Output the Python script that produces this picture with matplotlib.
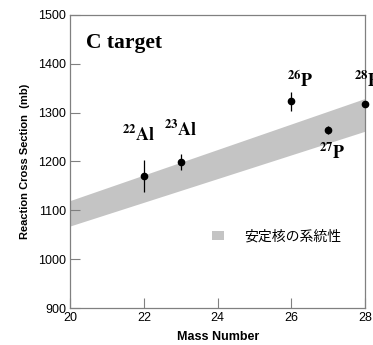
import matplotlib
matplotlib.use("Agg")
import matplotlib.pyplot as plt
from matplotlib.patches import Patch

plt.rcParams["mathtext.fontset"] = "stix"

mass = [22, 23, 26, 27, 28]
sigma = [1170, 1199, 1323, 1265, 1318]
err = [33, 16, 20, 8, 0]
labels = [r"$\mathbf{^{22}Al}$", r"$\mathbf{^{23}Al}$", r"$\mathbf{^{26}P}$",
          r"$\mathbf{^{27}P}$", r"$\mathbf{^{28}P}$"]
label_x = [21.85, 23.0, 26.25, 27.1, 28.05]
label_y = [1255, 1265, 1365, 1218, 1365]

band_x = [20, 28]
band_lo = [1068, 1262]
band_hi = [1120, 1329]

xticks = [20, 22, 24, 26, 28]
yticks = [900, 1000, 1100, 1200, 1300, 1400, 1500]

fig = plt.figure(figsize=(3.73, 3.45), dpi=100)
ax = fig.add_axes([0.188, 0.107, 0.791, 0.85])

ax.fill_between(band_x, band_lo, band_hi, color="#c4c4c4", lw=0, zorder=1)
ax.errorbar(mass, sigma, yerr=err, fmt="o", color="black", ms=4.5,
            elinewidth=0.9, capsize=0, zorder=3, clip_on=False)

for lx, ly, t in zip(label_x, label_y, labels):
    ax.text(lx, ly, t, ha="center", va="center", fontsize=13,
            clip_on=False)

ax.text(20.42, 1442, "C target", fontsize=15.5, fontweight="bold",
        family="Liberation Serif", ha="left", va="center")

ax.set_xlim(20, 28)
ax.set_ylim(900, 1500)
ax.set_xticks(xticks)
ax.set_yticks(yticks)
ax.tick_params(direction="in", length=7, width=0.8, color="#808080",
               labelsize=9, top=False, right=False, pad=3)
for lab in ax.get_xticklabels() + ax.get_yticklabels():
    lab.set_family("Liberation Sans")
for s in ax.spines.values():
    s.set_color("#808080")
    s.set_linewidth(0.9)

ax.set_xlabel("Mass Number", fontsize=9, fontweight="bold",
              family="Liberation Sans", labelpad=5)
ax.set_ylabel("Reaction Cross Section  (mb)", fontsize=8, fontweight="bold",
              family="Liberation Sans", labelpad=6)

leg = ax.legend(handles=[Patch(facecolor="#c4c4c4", edgecolor="none")],
                labels=["安定核の系統性"], loc="center left",
                bbox_to_anchor=(0.44, 0.245), frameon=False,
                prop={"family": ["Noto Sans CJK JP", "DejaVu Sans"], "size": 10},
                handlelength=0.8, handleheight=0.6, handletextpad=1.5)

fig.savefig("out.png", dpi=100)
